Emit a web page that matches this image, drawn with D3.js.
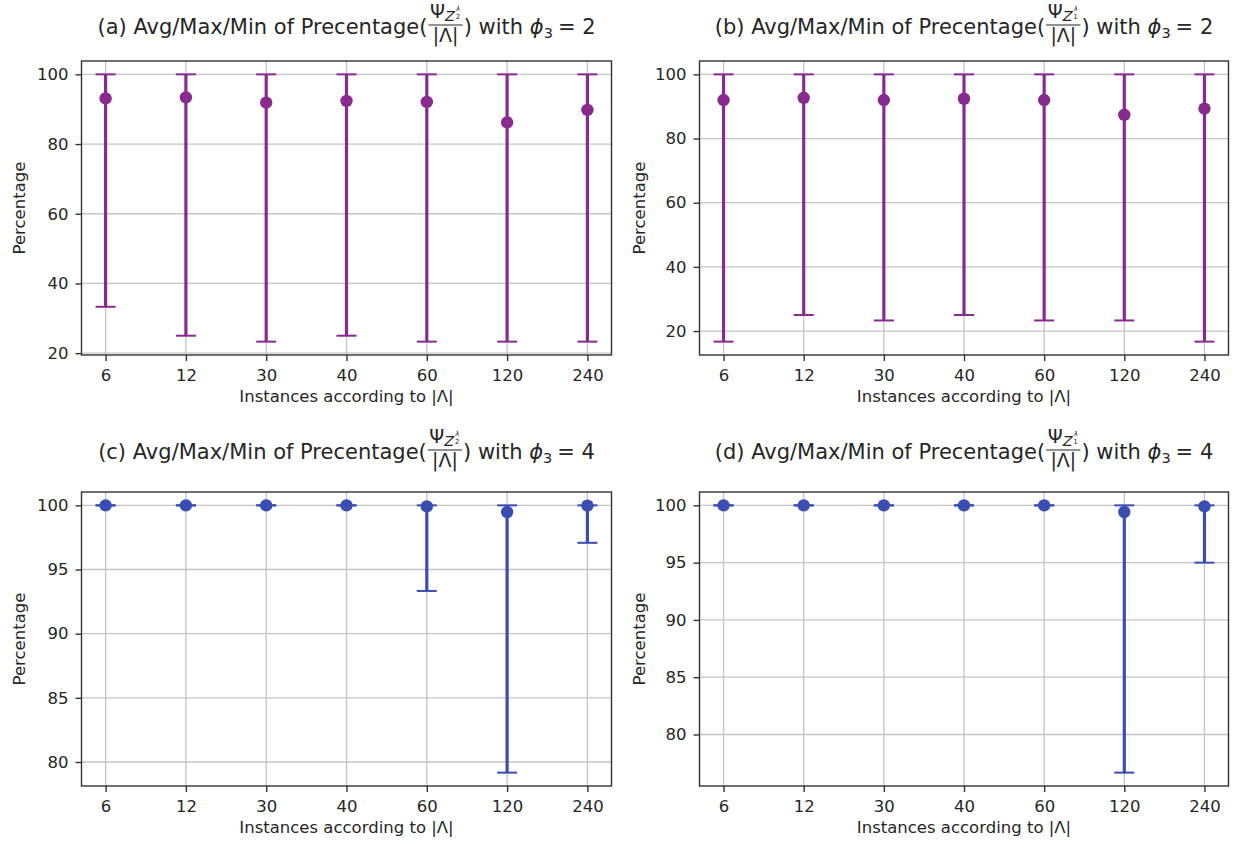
<!DOCTYPE html>
<html>
<head>
<meta charset="utf-8">
<script src="https://cdn.jsdelivr.net/npm/d3@7"></script>
<style>
  body { margin: 0; background: #ffffff; }
  text { font-family: "DejaVu Sans", sans-serif; fill: #262626; white-space: pre; }
</style>
</head>
<body>
<svg id="fig" width="1236" height="848"></svg>
<script>
// Instance sizes |Λ| on the x axis
const instances = ["6", "12", "30", "40", "60", "120", "240"];

// (a) Z_2 coverage, phi_3 = 2
const avgA = [93.1, 93.4, 91.9, 92.4, 92.1, 86.2, 89.8];
const maxA = [100, 100, 100, 100, 100, 100, 100];
const minA = [33.3, 25.0, 23.3, 25.0, 23.3, 23.3, 23.3];

// (b) Z_1 coverage, phi_3 = 2
const avgB = [92.0, 92.7, 92.0, 92.4, 92.0, 87.4, 89.3];
const maxB = [100, 100, 100, 100, 100, 100, 100];
const minB = [16.7, 25.0, 23.3, 25.0, 23.3, 23.3, 16.7];

// (c) Z_2 coverage, phi_3 = 4
const avgC = [100, 100, 100, 100, 99.92, 99.48, 99.98];
const maxC = [100, 100, 100, 100, 100, 100, 100];
const minC = [100, 100, 100, 100, 93.33, 79.17, 97.08];

// (d) Z_1 coverage, phi_3 = 4
const avgD = [100, 100, 100, 100, 100, 99.42, 99.91];
const maxD = [100, 100, 100, 100, 100, 100, 100];
const minD = [100, 100, 100, 100, 100, 76.67, 95.0];

const yTicksPhi2 = [20, 40, 60, 80, 100];
const yTicksPhi4 = [80, 85, 90, 95, 100];

const panelLabels = ["a", "b", "c", "d"];
const zSubscripts = ["2", "1", "2", "1"];
const phiValues = ["2", "2", "4", "4"];

const purple = "#882a8e";
const blue = "#3a4db2";

const panels = [
  { avg: avgA, max: maxA, min: minA, ticks: yTicksPhi2, color: purple,
    box: { l: 81.5, r: 611.5, t: 61, b: 355 }, yLabelX: 25, titleY: 34 },
  { avg: avgB, max: maxB, min: minB, ticks: yTicksPhi2, color: purple,
    box: { l: 699.5, r: 1228.5, t: 61, b: 355 }, yLabelX: 645, titleY: 34 },
  { avg: avgC, max: maxC, min: minC, ticks: yTicksPhi4, color: blue,
    box: { l: 81.5, r: 611.5, t: 492, b: 786 }, yLabelX: 25, titleY: 459 },
  { avg: avgD, max: maxD, min: minD, ticks: yTicksPhi4, color: blue,
    box: { l: 699.5, r: 1228.5, t: 492, b: 786 }, yLabelX: 645, titleY: 459 }
];

const svg = d3.select("#fig");
const TICK_FONT = 16.5;
const TITLE_FONT = 21;

function drawTitle(cx, baseline, label, zsub, phiVal) {
  const g = svg.append("g");
  let x = 0;
  const addText = (str, size, dy, style) => g.append("text")
    .attr("x", x).attr("y", dy)
    .style("font-size", size + "px")
    .style("font-style", style || "normal")
    .text(str);

  let t = addText(`(${label}) Avg/Max/Min of Precentage(`, TITLE_FONT, 0);
  x += t.node().getComputedTextLength();

  // fraction: numerator Ψ_{Z^λ_k}, denominator |Λ|
  const fx = x + 1;
  const num = g.append("text").attr("x", 0).attr("y", -16.5).style("font-size", "18px");
  num.append("tspan").style("font-size", "19px").text("Ψ");
  num.append("tspan").style("font-size", "14.5px").style("font-style", "italic")
    .attr("dy", 3).text("Z");
  const lamSpan = num.append("tspan").style("font-size", "7px").style("font-style", "italic")
    .attr("dy", -9.5).text("λ");
  const subSpan = num.append("tspan").style("font-size", "7px")
    .attr("dy", 8).text(zsub);
  const nn = num.node();
  const afterZ = nn.getEndPositionOfChar(1).x + 0.8;
  lamSpan.attr("x", afterZ + 0.4);
  subSpan.attr("x", afterZ);
  const numW = Math.max(nn.getEndPositionOfChar(2).x, nn.getEndPositionOfChar(3).x) + 1;

  const den = g.append("text").attr("y", 8).style("font-size", "19px").text("|Λ|");
  const denW = den.node().getComputedTextLength();
  const fracW = Math.max(numW, denW) + 3;
  num.attr("transform", `translate(${fx + (fracW - numW) / 2},0)`);
  den.attr("x", fx + (fracW - denW) / 2);
  g.append("line")
    .attr("x1", fx).attr("x2", fx + fracW)
    .attr("y1", -9).attr("y2", -9)
    .attr("stroke", "#262626").attr("stroke-width", 1.2);
  x = fx + fracW + 1;

  t = addText(") with ", TITLE_FONT, 0);
  x += t.node().getComputedTextLength();
  t = addText("ϕ", TITLE_FONT, 0, "italic");
  x += t.node().getComputedTextLength();
  t = addText("3", 14.5, 4);
  x += t.node().getComputedTextLength() + 5;
  t = addText("= " + phiVal, TITLE_FONT, 0);
  x += t.node().getComputedTextLength();

  g.attr("transform", `translate(${cx - x / 2},${baseline})`);
}

panels.forEach((p, i) => {
  const { l, r, t, b } = p.box;
  const x = d3.scalePoint().domain(instances).range([l, r]).padding(0.3);
  const lo = d3.min(p.min), hi = d3.max(p.max);
  const pad = (hi - lo) * 0.05;
  const y = d3.scaleLinear().domain([lo - pad, hi + pad]).range([b, t]);

  const g = svg.append("g");

  // grid
  g.append("g").selectAll("line").data(p.ticks).join("line")
    .attr("x1", l).attr("x2", r)
    .attr("y1", d => y(d)).attr("y2", d => y(d))
    .attr("stroke", "#c4c4c4").attr("stroke-width", 1.3);
  g.append("g").selectAll("line").data(instances).join("line")
    .attr("x1", d => x(d)).attr("x2", d => x(d))
    .attr("y1", t).attr("y2", b)
    .attr("stroke", "#c4c4c4").attr("stroke-width", 1.3);

  // axes
  const yAxis = g.append("g").attr("transform", `translate(${l},0)`)
    .call(d3.axisLeft(y).tickValues(p.ticks).tickSize(6).tickPadding(7).tickFormat(d3.format("d")));
  const xAxis = g.append("g").attr("transform", `translate(0,${b})`)
    .call(d3.axisBottom(x).tickSize(6).tickPadding(8));
  [yAxis, xAxis].forEach(a => {
    a.select(".domain").remove();
    a.selectAll(".tick line").attr("stroke", "#333").attr("stroke-width", 1.4);
    a.selectAll(".tick text").style("font-size", TICK_FONT + "px")
      .style("font-family", "'DejaVu Sans', sans-serif").attr("fill", "#262626");
  });

  // error bars from min to max
  const bars = g.append("g");
  bars.selectAll("line.err").data(instances).join("line")
    .attr("class", "err")
    .attr("x1", d => x(d)).attr("x2", d => x(d))
    .attr("y1", (d, k) => y(p.min[k])).attr("y2", (d, k) => y(p.max[k]))
    .attr("stroke", p.color).attr("stroke-width", 3.2);
  const caps = instances.flatMap((d, k) => [{ c: d, v: p.min[k] }, { c: d, v: p.max[k] }]);
  bars.selectAll("line.cap").data(caps).join("line")
    .attr("class", "cap")
    .attr("x1", d => x(d.c) - 10).attr("x2", d => x(d.c) + 10)
    .attr("y1", d => y(d.v)).attr("y2", d => y(d.v))
    .attr("stroke", p.color).attr("stroke-width", 2);
  // average markers
  bars.selectAll("circle").data(instances).join("circle")
    .attr("cx", d => x(d)).attr("cy", (d, k) => y(p.avg[k]))
    .attr("r", 6.2).attr("fill", p.color);

  // frame
  g.append("rect").attr("x", l).attr("y", t).attr("width", r - l).attr("height", b - t)
    .attr("fill", "none").attr("stroke", "#333").attr("stroke-width", 1.4);

  // axis labels
  g.append("text").attr("x", (l + r) / 2).attr("y", b + 47)
    .attr("text-anchor", "middle").style("font-size", "16.5px")
    .text("Instances according to |Λ|");
  g.append("text")
    .attr("transform", `translate(${p.yLabelX},${(t + b) / 2}) rotate(-90)`)
    .attr("text-anchor", "middle").style("font-size", "16.5px")
    .text("Percentage");

  drawTitle((l + r) / 2, p.titleY, panelLabels[i], zSubscripts[i], phiValues[i]);
});
</script>
</body>
</html>
